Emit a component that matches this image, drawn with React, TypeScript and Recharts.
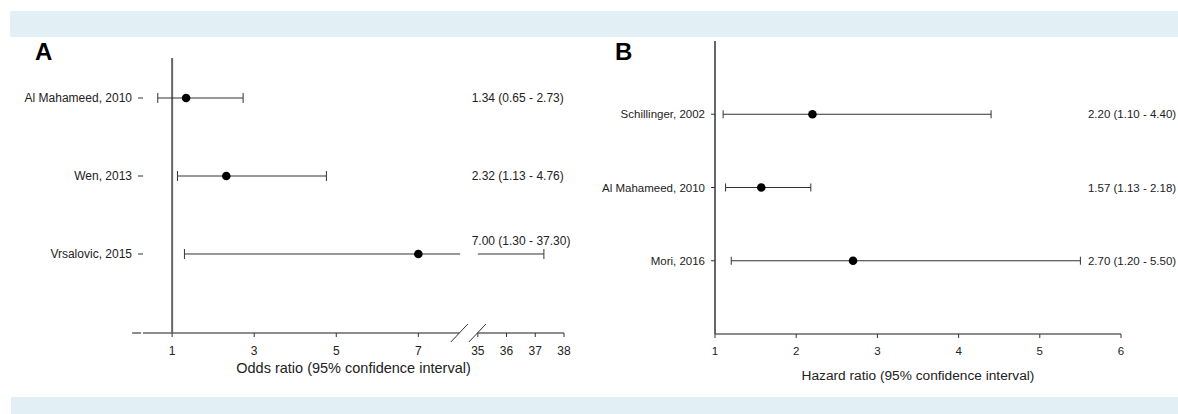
import { ReferenceLine, Scatter, ScatterChart, XAxis, YAxis } from "recharts";

// Panel A: odds ratios (x axis is broken between 7 and 35)
const studiesA = ["Al Mahameed, 2010", "Wen, 2013", "Vrsalovic, 2015"];
const oddsA = [1.34, 2.32, 7.0];
const lowA = [0.65, 1.13, 1.3];
const highA = [2.73, 4.76, 37.3];
const ticksA = [1, 3, 5, 7, 35, 36, 37, 38];

// Panel B: hazard ratios
const studiesB = ["Schillinger, 2002", "Al Mahameed, 2010", "Mori, 2016"];
const hazardB = [2.2, 1.57, 2.7];
const lowB = [1.1, 1.13, 1.2];
const highB = [4.4, 2.18, 5.5];
const ticksB = [1, 2, 3, 4, 5, 6];

const INK = "#222";
const AXIS = "#666";
const LINE = "#333";
const BAND = "#e2f0f5";

// broken axis: values below the break are drawn as-is, the 35..38 part is squeezed after it
const BREAK_AT = 8.02;
const RESUME = 35;
const RESUME_POS = 8.45;
const UPPER_SCALE = 0.7;
const toAxisA = (v: number) => (v < RESUME ? v : RESUME_POS + (v - RESUME) * UPPER_SCALE);

const fmt = (e: number, lo: number, hi: number) =>
  `${e.toFixed(2)} (${lo.toFixed(2)} - ${hi.toFixed(2)})`;

type Pt = { x: number; y: number; cap: boolean };

function segmentsA(): Pt[][] {
  const out: Pt[][] = [];
  studiesA.forEach((_, i) => {
    const y = i + 1;
    if (highA[i] >= RESUME) {
      out.push([
        { x: toAxisA(lowA[i]), y, cap: true },
        { x: BREAK_AT, y, cap: false },
      ]);
      out.push([
        { x: RESUME_POS, y, cap: false },
        { x: toAxisA(highA[i]), y, cap: true },
      ]);
    } else {
      out.push([
        { x: lowA[i], y, cap: true },
        { x: highA[i], y, cap: true },
      ]);
    }
  });
  return out;
}

function segmentsB(): Pt[][] {
  return studiesB.map((_, i) => [
    { x: lowB[i], y: i + 1, cap: true },
    { x: highB[i], y: i + 1, cap: true },
  ]);
}

const capShape = (half: number) => (props: any) => {
  const { cx, cy, payload } = props;
  if (!payload?.cap) return <g />;
  return <line x1={cx} x2={cx} y1={cy - half} y2={cy + half} stroke={LINE} strokeWidth={1} />;
};

const dotShape = (props: any) => <circle cx={props.cx} cy={props.cy} r={4.3} fill="#000" />;

// estimate text column; a row whose CI runs under the column gets its text lifted
const textShape = (size: number) => (props: any) => {
  const { cx, cy, payload } = props;
  const lift = payload.lifted ? 13 : 0;
  return (
    <text x={cx} y={cy - lift} dy="0.35em" fontSize={size} fill={INK} textAnchor="start">
      {payload.text}
    </text>
  );
};

// y tick labels as plain text so long study names never wrap
const studyTick = (names: string[], size: number) => (props: any) => {
  const { x, y, payload } = props;
  return (
    <text x={x} y={y} dy="0.35em" textAnchor="end" fontSize={size} fill={INK}>
      {names[payload.value - 1] ?? ""}
    </text>
  );
};

function PanelA() {
  const yTop = 0.487;
  const yBottom = 4.013;
  const xLeft = 0.29;
  const xRight = toAxisA(38);
  const slashDx = 0.207;
  const slashDy = 0.115;
  const labels = studiesA.map((_, i) => ({
    x: 8.3,
    y: i + 1,
    text: fmt(oddsA[i], lowA[i], highA[i]),
    lifted: highA[i] >= RESUME,
  }));
  const points = studiesA.map((_, i) => ({ x: toAxisA(oddsA[i]), y: i + 1 }));

  return (
    <ScatterChart width={590} height={414} margin={{ top: 58, right: 26, bottom: 31, left: 23 }}>
      <XAxis
        type="number"
        dataKey="x"
        domain={[xLeft, xRight]}
        ticks={ticksA.map(toAxisA)}
        interval={0}
        tickFormatter={(v: number) => {
          const t = ticksA.find((k) => Math.abs(toAxisA(k) - v) < 1e-6);
          return t === undefined ? "" : String(t);
        }}
        axisLine={false}
        tickLine={{ stroke: LINE }}
        tickSize={4}
        tickMargin={9}
        tick={{ fontSize: 12, fill: INK }}
        height={50}
        label={{
          value: "Odds ratio (95% confidence interval)",
          position: "insideTop",
          offset: 30,
          fill: INK,
          fontSize: 14.5,
        }}
      />
      <YAxis
        type="number"
        dataKey="y"
        domain={[yTop, yBottom]}
        reversed
        ticks={[1, 2, 3]}
        interval={0}
        axisLine={false}
        tickLine={{ stroke: LINE }}
        tickSize={5}
        tickMargin={6}
        tick={studyTick(studiesA, 12)}
        width={120}
      />
      {/* broken x axis line */}
      <ReferenceLine
        segment={[{ x: 0.024, y: yBottom }, { x: 0.244, y: yBottom }]}
        stroke={AXIS}
        strokeWidth={1.5}
        ifOverflow="visible"
      />
      <ReferenceLine
        segment={[{ x: xLeft, y: yBottom }, { x: BREAK_AT - 0.02, y: yBottom }]}
        stroke={AXIS}
        strokeWidth={1.5}
        ifOverflow="visible"
      />
      <ReferenceLine
        segment={[{ x: RESUME_POS - 0.01, y: yBottom }, { x: xRight, y: yBottom }]}
        stroke={AXIS}
        strokeWidth={1.5}
        ifOverflow="visible"
      />
      <ReferenceLine
        segment={[
          { x: BREAK_AT - 0.02 - slashDx, y: yBottom + slashDy },
          { x: BREAK_AT - 0.02 + slashDx, y: yBottom - slashDy },
        ]}
        stroke={LINE}
        strokeWidth={1}
        ifOverflow="visible"
      />
      <ReferenceLine
        segment={[
          { x: RESUME_POS - 0.01 - slashDx, y: yBottom + slashDy },
          { x: RESUME_POS - 0.01 + slashDx, y: yBottom - slashDy },
        ]}
        stroke={LINE}
        strokeWidth={1}
        ifOverflow="visible"
      />
      {/* null line at OR = 1 */}
      <ReferenceLine x={1} stroke={AXIS} strokeWidth={2} />
      {segmentsA().map((seg, k) => (
        <Scatter
          key={`a-seg-${k}`}
          data={seg}
          line={{ stroke: LINE, strokeWidth: 1 }}
          shape={capShape(5)}
          isAnimationActive={false}
        />
      ))}
      <Scatter data={points} shape={dotShape} isAnimationActive={false} />
      <Scatter data={labels} shape={textShape(12)} isAnimationActive={false} />
    </ScatterChart>
  );
}

function PanelB() {
  const labels = studiesB.map((_, i) => ({
    x: 5.593,
    y: i + 1,
    text: fmt(hazardB[i], lowB[i], highB[i]),
    lifted: false,
  }));
  const points = studiesB.map((_, i) => ({ x: hazardB[i], y: i + 1 }));

  return (
    <ScatterChart width={588} height={414} margin={{ top: 41, right: 57, bottom: 30, left: 15 }}>
      <XAxis
        type="number"
        dataKey="x"
        domain={[1, 6]}
        ticks={ticksB}
        interval={0}
        axisLine={{ stroke: AXIS, strokeWidth: 1.5 }}
        tickLine={{ stroke: LINE }}
        tickSize={4}
        tickMargin={9}
        tick={{ fontSize: 11.5, fill: INK }}
        height={50}
        label={{
          value: "Hazard ratio (95% confidence interval)",
          position: "insideTop",
          offset: 36,
          fill: INK,
          fontSize: 13.7,
        }}
      />
      <YAxis
        type="number"
        dataKey="y"
        domain={[0, 4]}
        reversed
        ticks={[1, 2, 3]}
        interval={0}
        axisLine={{ stroke: AXIS, strokeWidth: 2 }}
        tickLine={{ stroke: LINE }}
        tickSize={4}
        tickMargin={6}
        tick={studyTick(studiesB, 11.5)}
        width={110}
      />
      {segmentsB().map((seg, k) => (
        <Scatter
          key={`b-seg-${k}`}
          data={seg}
          line={{ stroke: LINE, strokeWidth: 1 }}
          shape={capShape(4)}
          isAnimationActive={false}
        />
      ))}
      <Scatter data={points} shape={dotShape} isAnimationActive={false} />
      <Scatter data={labels} shape={textShape(11.5)} isAnimationActive={false} />
    </ScatterChart>
  );
}

export default function App() {
  const letter = { position: "absolute" as const, fontSize: 24, fontWeight: 700, lineHeight: "24px", color: "#000" };
  return (
    <div
      style={{
        position: "absolute",
        left: 0,
        top: 0,
        width: 1178,
        height: 414,
        background: "#fff",
        fontFamily: '"Liberation Sans", Arial, sans-serif',
        overflow: "hidden",
      }}
    >
      <div style={{ position: "absolute", left: 10, top: 11, width: 1168, height: 26, background: BAND }} />
      <div style={{ position: "absolute", left: 11, top: 397, width: 1167, height: 17, background: BAND }} />
      <div style={{ ...letter, left: 35, top: 40 }}>A</div>
      <div style={{ ...letter, left: 615, top: 40 }}>B</div>
      <div style={{ position: "absolute", left: 0, top: 0 }}>
        <PanelA />
      </div>
      <div style={{ position: "absolute", left: 590, top: 0 }}>
        <PanelB />
      </div>
    </div>
  );
}
